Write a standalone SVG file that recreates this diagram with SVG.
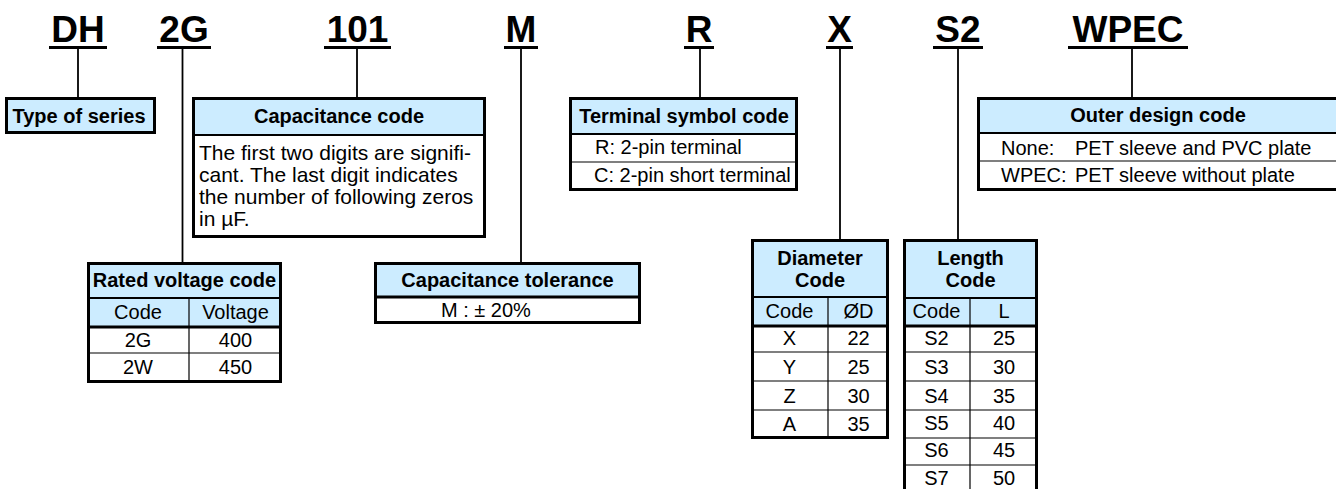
<svg xmlns="http://www.w3.org/2000/svg" width="1336" height="489" viewBox="0 0 1336 489">
<style>
text{font-family:"Liberation Sans",Arial,sans-serif;fill:#000}
.code{font-size:37px;font-weight:bold;text-anchor:middle}
.hd{font-size:20px;font-weight:bold;text-anchor:middle}
.tx{font-size:20px}
.c{font-size:20px;text-anchor:middle}
.body{font-size:21px}
.box{fill:#fff;stroke:#000;stroke-width:3}
.hfill{fill:#CCECFF}
.thick{stroke:#000;stroke-width:3}
.mid{stroke:#000;stroke-width:2}
.thin{stroke:#000;stroke-width:1.2}
.conn{stroke:#000;stroke-width:1.8;fill:none}
.ul{fill:#000}
</style>
<rect width="1336" height="489" fill="#fff"/>

<g id="codes">
  <text class="code" x="78" y="42">DH</text><rect class="ul" x="49" y="46" width="58" height="3"/>
  <text class="code" x="184" y="42">2G</text><rect class="ul" x="157" y="46" width="54" height="3"/>
  <text class="code" x="357.5" y="42">101</text><rect class="ul" x="324" y="46" width="67" height="3"/>
  <text class="code" x="521" y="42">M</text><rect class="ul" x="504" y="46" width="34" height="3"/>
  <text class="code" x="699" y="42">R</text><rect class="ul" x="684" y="46" width="30" height="3"/>
  <text class="code" x="839.5" y="42">X</text><rect class="ul" x="826" y="46" width="27" height="3"/>
  <text class="code" x="958" y="42">S2</text><rect class="ul" x="933" y="46" width="50" height="3"/>
  <text class="code" x="1128" y="42">WPEC</text><rect class="ul" x="1068" y="46" width="120" height="3"/>
</g>

<g id="connectors">
  <line class="conn" x1="78" y1="49" x2="78" y2="97"/>
  <line class="conn" x1="182.5" y1="49" x2="182.5" y2="262"/>
  <line class="conn" x1="357" y1="49" x2="357" y2="97"/>
  <line class="conn" x1="521" y1="49" x2="521" y2="262"/>
  <line class="conn" x1="700" y1="49" x2="700" y2="97"/>
  <line class="conn" x1="840" y1="49" x2="840" y2="239"/>
  <line class="conn" x1="958" y1="49" x2="958" y2="239"/>
  <line class="conn" x1="1132" y1="49" x2="1132" y2="97"/>
</g>

<g id="type-of-series">
  <rect class="box" x="6.5" y="98.5" width="148" height="34"/>
  <rect class="hfill" x="8" y="100" width="145" height="31"/>
  <text class="hd" x="79" y="123">Type of series</text>
</g>

<g id="capacitance-code">
  <rect class="box" x="193.5" y="98.5" width="291" height="138"/>
  <rect class="hfill" x="195" y="100" width="288" height="35"/>
  <line class="mid" x1="193.5" y1="135" x2="484.5" y2="135"/>
  <text class="hd" x="339" y="123">Capacitance code</text>
  <text class="body" x="199" y="160">The first two digits are signifi-</text>
  <text class="body" x="199" y="182">cant. The last digit indicates</text>
  <text class="body" x="199" y="204">the number of following zeros</text>
  <text class="body" x="199" y="226">in µF.</text>
</g>

<g id="terminal-symbol-code">
  <rect class="box" x="570.5" y="98.5" width="226" height="91"/>
  <rect class="hfill" x="572" y="100" width="223" height="34"/>
  <line class="mid" x1="570.5" y1="134" x2="796.5" y2="134"/>
  <line class="thin" x1="570.5" y1="162" x2="796.5" y2="162"/>
  <text class="hd" x="684" y="123">Terminal symbol code</text>
  <text class="tx" x="595" y="154">R: 2-pin terminal</text>
  <text class="tx" x="594" y="182">C: 2-pin short terminal</text>
</g>

<g id="outer-design-code">
  <rect class="box" x="978.5" y="98.5" width="364" height="91"/>
  <rect class="hfill" x="980" y="100" width="360" height="33"/>
  <line class="mid" x1="978.5" y1="133" x2="1340" y2="133"/>
  <line class="thin" x1="978.5" y1="161" x2="1340" y2="161"/>
  <text class="hd" x="1158" y="122">Outer design code</text>
  <text class="tx" x="1001" y="155">None:</text>
  <text class="tx" x="1075" y="155">PET sleeve and PVC plate</text>
  <text class="tx" x="1001" y="182">WPEC:</text>
  <text class="tx" x="1075" y="182">PET sleeve without plate</text>
</g>

<g id="rated-voltage-code">
  <rect class="box" x="88.5" y="263.5" width="192" height="118"/>
  <rect class="hfill" x="90" y="265" width="189" height="62"/>
  <line class="mid" x1="88.5" y1="298" x2="280.5" y2="298"/>
  <line class="thick" x1="88.5" y1="327" x2="280.5" y2="327"/>
  <line class="thin" x1="88.5" y1="353" x2="280.5" y2="353"/>
  <line class="thin" x1="189" y1="298" x2="189" y2="381.5"/>
  <text class="hd" x="184.5" y="287">Rated voltage code</text>
  <text class="c" x="138" y="319">Code</text>
  <text class="c" x="235.5" y="319">Voltage</text>
  <text class="c" x="138" y="347">2G</text>
  <text class="c" x="235.5" y="347">400</text>
  <text class="c" x="138" y="374">2W</text>
  <text class="c" x="235.5" y="374">450</text>
</g>

<g id="capacitance-tolerance">
  <rect class="box" x="375.5" y="263.5" width="264" height="59"/>
  <rect class="hfill" x="377" y="265" width="261" height="32"/>
  <line class="thick" x1="375.5" y1="297" x2="639.5" y2="297"/>
  <text class="hd" x="507.5" y="287">Capacitance tolerance</text>
  <text class="tx" x="441" y="317">M : ± 20%</text>
</g>

<g id="diameter-code">
  <rect class="box" x="752.5" y="240.5" width="135" height="197"/>
  <rect class="hfill" x="754" y="242" width="132" height="84"/>
  <line class="mid" x1="752.5" y1="297" x2="887.5" y2="297"/>
  <line class="thick" x1="752.5" y1="326" x2="887.5" y2="326"/>
  <line class="thin" x1="752.5" y1="352" x2="887.5" y2="352"/>
  <line class="thin" x1="752.5" y1="381" x2="887.5" y2="381"/>
  <line class="thin" x1="752.5" y1="410" x2="887.5" y2="410"/>
  <line class="thin" x1="828" y1="297" x2="828" y2="437.5"/>
  <text class="hd" x="820" y="265">Diameter</text>
  <text class="hd" x="820" y="287">Code</text>
  <text class="c" x="789.5" y="318">Code</text>
  <text class="c" x="858.5" y="318">ØD</text>
  <text class="c" x="789.5" y="345">X</text><text class="c" x="858.5" y="345">22</text>
  <text class="c" x="789.5" y="374">Y</text><text class="c" x="858.5" y="374">25</text>
  <text class="c" x="789.5" y="403">Z</text><text class="c" x="858.5" y="403">30</text>
  <text class="c" x="789.5" y="431">A</text><text class="c" x="858.5" y="431">35</text>
</g>

<g id="length-code">
  <rect class="box" x="904.5" y="240.5" width="132" height="260"/>
  <rect class="hfill" x="906" y="242" width="129" height="84"/>
  <line class="mid" x1="904.5" y1="298" x2="1036.5" y2="298"/>
  <line class="thick" x1="904.5" y1="326" x2="1036.5" y2="326"/>
  <line class="thin" x1="904.5" y1="352" x2="1036.5" y2="352"/>
  <line class="thin" x1="904.5" y1="381" x2="1036.5" y2="381"/>
  <line class="thin" x1="904.5" y1="410" x2="1036.5" y2="410"/>
  <line class="thin" x1="904.5" y1="438" x2="1036.5" y2="438"/>
  <line class="thin" x1="904.5" y1="465" x2="1036.5" y2="465"/>
  <line class="thin" x1="970" y1="298" x2="970" y2="500"/>
  <text class="hd" x="970.5" y="265">Length</text>
  <text class="hd" x="970.5" y="287">Code</text>
  <text class="c" x="936.5" y="318">Code</text>
  <text class="c" x="1004" y="318">L</text>
  <text class="c" x="936.5" y="345">S2</text><text class="c" x="1004" y="345">25</text>
  <text class="c" x="936.5" y="374">S3</text><text class="c" x="1004" y="374">30</text>
  <text class="c" x="936.5" y="403">S4</text><text class="c" x="1004" y="403">35</text>
  <text class="c" x="936.5" y="430">S5</text><text class="c" x="1004" y="430">40</text>
  <text class="c" x="936.5" y="457">S6</text><text class="c" x="1004" y="457">45</text>
  <text class="c" x="936.5" y="485">S7</text><text class="c" x="1004" y="485">50</text>
</g>
</svg>
